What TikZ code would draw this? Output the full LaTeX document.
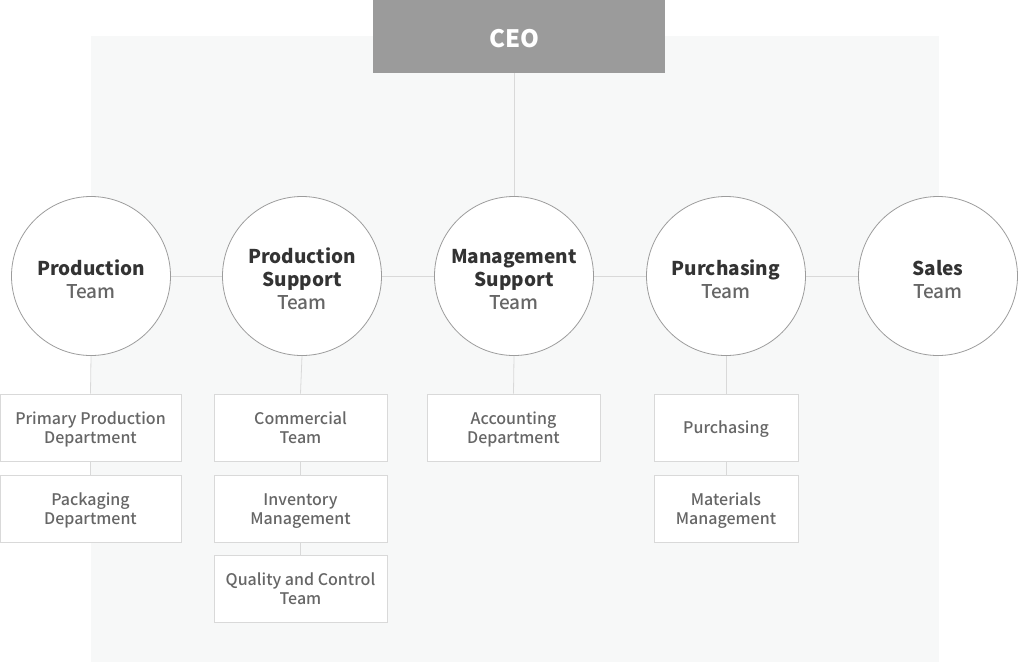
\documentclass[tikz,border=0pt]{standalone}
\usepackage{fontspec}
\setmainfont{Noto Sans CJK KR}
\IfFontExistsTF{Noto Sans CJK KR Medium}
	{\newfontfamily\medfont{Noto Sans CJK KR Medium}}
	{\newfontfamily\medfont{Noto Sans CJK KR}[FakeBold=0.3]}
\usepackage{xcolor}
\usepackage{tikz}
\usetikzlibrary{positioning}

\definecolor{ceogray}{HTML}{9B9B9B}
\definecolor{bgpanel}{HTML}{F7F8F8}
\definecolor{linegray}{HTML}{D9D9D9}
\definecolor{circlegray}{HTML}{9C9C9C}
\definecolor{titletext}{HTML}{333333}
\definecolor{subtext}{HTML}{666666}

% lowered text, box size kept
\newcommand{\lowered}[2]{\raisebox{-#1}[\height][\depth]{\begin{tabular}{@{}c@{}}#2\end{tabular}}}
\newcommand{\teamword}{{\medfont\mdseries\color{subtext}Team}}

\begin{document}
\begin{tikzpicture}[
		x=1pt, y=-1pt,
		line width=0.8pt,
		every node/.style={align=center},
		ceo box/.style={fill=ceogray, text=white, font=\fontsize{24}{28}\selectfont\bfseries,
			minimum width=292pt, minimum height=73pt, inner sep=0pt},
		team/.style={circle, draw=circlegray, fill=white, minimum size=159pt, inner sep=0pt,
			text=titletext, font=\fontsize{19}{23}\selectfont\bfseries},
		dept/.style={draw=linegray, fill=white, text=subtext, minimum height=67pt, inner sep=0pt,
			font=\fontsize{16}{19}\selectfont\medfont},
		link/.style={draw=linegray}
		]

	% Canvas and panel
	\useasboundingbox (0, 0) rectangle (1030, 662);
	\fill[bgpanel] (91, 36) rectangle (939, 662);

	% CEO
	\node[ceo box] (ceo) at (519, 36.5) {\lowered{5pt}{CEO\hspace*{9pt}}};

	% Teams
	\node[team] (prod) at (91, 276) {\lowered{6pt}{Production\\\teamword}};
	\node[team] (supp) at (302, 276) {\lowered{6pt}{Production\\Support\\\teamword}};
	\node[team] (mgmt) at (514, 276) {\lowered{6pt}{Management\\Support\\\teamword}};
	\node[team] (purch) at (726, 276) {\lowered{6pt}{Purchasing\\\teamword}};
	\node[team] (sales) at (938, 276) {\lowered{6pt}{Sales\\\teamword}};

	% Departments
	\node[dept, minimum width=181pt] (primary) at (90.5, 427.5) {\lowered{3pt}{Primary Production\\Department}};
	\node[dept, minimum width=181pt] (packing) at (90.5, 508.5) {\lowered{3pt}{Packaging\\Department}};
	\node[dept, minimum width=173pt] (commercial) at (300.5, 427.5) {\lowered{3pt}{Commercial\\Team}};
	\node[dept, minimum width=173pt] (inventory) at (300.5, 508.5) {\lowered{3pt}{Inventory\\Management}};
	\node[dept, minimum width=173pt] (quality) at (300.5, 588.5) {\lowered{3pt}{Quality and Control\\Team}};
	\node[dept, minimum width=173pt] (accounting) at (513.5, 427.5) {\lowered{3pt}{Accounting\\Department}};
	\node[dept, minimum width=144pt] (buying) at (726, 427.5) {\lowered{2pt}{Purchasing}};
	\node[dept, minimum width=144pt] (materials) at (726, 508.5) {\lowered{3pt}{Materials\\Management}};

	% Links
	\draw[link] (ceo.south -| mgmt.north) -- (mgmt.north);
	\foreach \a/\b in {prod/supp, supp/mgmt, mgmt/purch, purch/sales}{
		\draw[link] (\a.east) -- (\b.west);
	}
	\foreach \a/\b in {prod/primary, primary/packing, supp/commercial, commercial/inventory,
		inventory/quality, mgmt/accounting, purch/buying, buying/materials}{
		\draw[link] (\a.south) -- (\b.north);
	}

\end{tikzpicture}
\end{document}
